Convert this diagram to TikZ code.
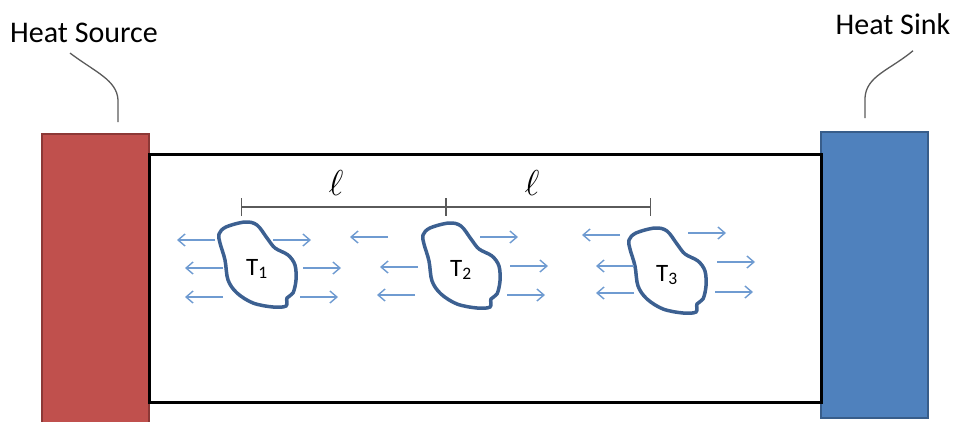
\RequirePackage{fix-cm}
\documentclass[tikz,border=0pt]{standalone}
\usepackage{fontspec}
\setmainfont{Carlito}
\usetikzlibrary{arrows.meta,calc}

\definecolor{srcred}{RGB}{192,80,77}
\definecolor{srcredline}{RGB}{140,56,54}
\definecolor{sinkblue}{RGB}{79,129,189}
\definecolor{sinkblueline}{RGB}{56,93,138}
\definecolor{blobline}{RGB}{60,96,145}
\definecolor{fluxblue}{RGB}{111,155,209}
\definecolor{leadergray}{RGB}{90,90,90}

\tikzset{
  bar/.style={line width=2.5pt},
  flux/.style={fluxblue, line width=1.4pt, -{Straight Barb[length=7pt,width=12pt]}},
  leader/.style={leadergray, line width=1.3pt},
  dimline/.style={leadergray, line width=1.4pt, {Bar[width=18pt]}-{Bar[width=18pt]}},
  bigtext/.style={font=\fontsize{30}{35}\selectfont, inner sep=0pt},
  elltext/.style={font=\fontsize{36}{42}\selectfont, inner sep=0pt},
  tlabel/.style={font=\fontsize{25}{30}\selectfont, inner sep=0pt},
  blob/.pic={
    \draw[blobline, line width=3.5pt] plot[smooth cycle, tension=0.55] coordinates {
      (-38,-31) (-31,-38) (-12,-43) (0,-40) (10,-27) (18,-17) (31,-10) (38,0)
      (39,15) (36,28) (30,33) (29,41) (16,42) (-4,38) (-20,28) (-29,15)
      (-32,-5) (-37,-22)};
  }
}

\begin{document}
\begin{tikzpicture}[x=1pt, y=-1pt]
  \useasboundingbox (0,0) rectangle (954,421);

  % heat source and heat sink
  \draw[bar, fill=srcred, draw=srcredline] (42,134) rectangle (149,424);
  \draw[bar, fill=sinkblue, draw=sinkblueline] (821,132) rectangle (928,418);
  \draw[line width=3pt] (149,154) rectangle (821,402);

  \node[bigtext] (hsrc) at (84,33) {Heat Source};
  \node[bigtext] (hsink) at (893,24) {Heat Sink};
  \coordinate (srcend) at (118,122);
  \coordinate (sinkend) at (865,118);
  \draw[leader] ([xshift=-14pt,yshift=-10pt]hsrc.south) .. controls (95,72) and (117,80) .. (118,100) -- (srcend);
  \draw[leader] ([xshift=20pt,yshift=-16pt]hsink.south) .. controls (890,70) and (866,76) .. (865,98) -- (sinkend);

  % spacing
  \coordinate (d1) at (241,207);
  \coordinate (d2) at (446,207);
  \coordinate (d3) at (651,207);
  \draw[dimline] (d1) -- (d2);
  \draw[dimline] (d2) -- (d3);
  \node[elltext] (ell1) at (336,183) {$\ell$};
  \node[elltext] (ell2) at (532,183) {$\ell$};

  % particles
  \coordinate (c1) at (257,265);
  \coordinate (c2) at (461,266);
  \coordinate (c3) at (667,271);
  \foreach \c/\n in {c1/1, c2/2, c3/3} {
    \pic at (\c) {blob};
    \node[tlabel] (t\n) at ($(\c)+(0,4)$) {T\textsubscript{\n}};
  }

  % heat flux arrows
  \foreach \x/\y/\d in {215/240/-1, 223/268/-1, 223/297/-1, 273/240/1, 303/268/1, 300/297/1,
                        388/237/-1, 418/267/-1, 415/295/-1, 480/237/1, 510/266/1, 507/295/1,
                        620/235/-1, 634/266/-1, 634/293/-1, 688/233/1, 717/262/1, 715/292/1}
    \draw[flux] (\x,\y) -- ++(\d*38,0);

\end{tikzpicture}
\end{document}
